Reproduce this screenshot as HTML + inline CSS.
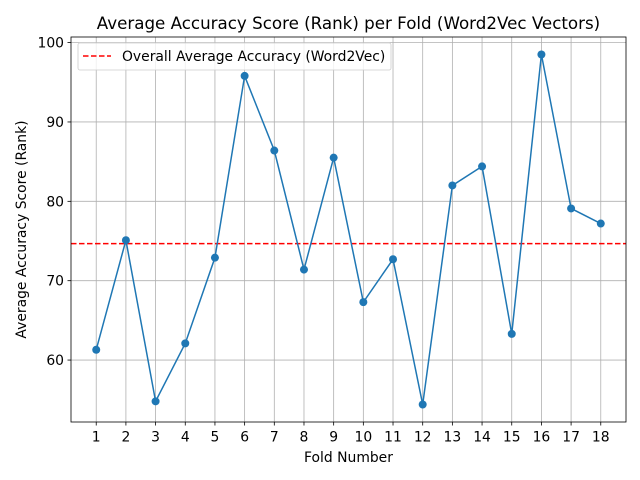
<!DOCTYPE html>
<html><head><meta charset="utf-8"><style>
body{margin:0;background:#fff;}
svg{display:block;font-family:"DejaVu Sans","Liberation Sans",sans-serif;}
</style></head><body>
<svg id="chart" width="640" height="480" xmlns="http://www.w3.org/2000/svg"></svg>
<script>
const folds = [1,2,3,4,5,6,7,8,9,10,11,12,13,14,15,16,17,18];
const scores = [61.3,75.1,54.8,62.1,72.9,95.8,86.4,71.4,85.5,67.3,72.7,54.4,82.0,84.4,63.3,98.5,79.1,77.2];
const yTicks = [60,70,80,90,100];

const NS="http://www.w3.org/2000/svg";
const svg=document.getElementById('chart');
const L=71,R=626,T=37,B=422;
const FS=13.9;
const ymin=Math.min(...scores),ymax=Math.max(...scores),yr=ymax-ymin;
const y0=ymin-0.05*yr,y1=ymax+0.05*yr;
const xmin=folds[0]-0.05*(folds[folds.length-1]-folds[0]),xmax=folds[folds.length-1]+0.05*(folds[folds.length-1]-folds[0]);
const sx=v=>L+(v-xmin)/(xmax-xmin)*(R-L);
const sy=v=>B-(v-y0)/(y1-y0)*(B-T);
function mk(tag,attrs,parent){const e=document.createElementNS(NS,tag);for(const k in attrs)e.setAttribute(k,attrs[k]);(parent||svg).appendChild(e);return e;}

folds.forEach(f=>{
  const g=mk('line',{x1:sx(f),x2:sx(f),y1:T,y2:B,stroke:'#b0b0b0','stroke-width':0.8});
  
  
  mk('line',{x1:sx(f),x2:sx(f),y1:B,y2:B+3.5,stroke:'#000','stroke-width':0.8});
  const t=mk('text',{x:sx(f),y:B+19.5,'text-anchor':'middle','font-size':FS});
  t.textContent=f;
  
  
});
yTicks.forEach(v=>{
  const g=mk('line',{x1:L,x2:R,y1:sy(v),y2:sy(v),stroke:'#b0b0b0','stroke-width':0.8});
  
  
  mk('line',{x1:L-3.5,x2:L,y1:sy(v),y2:sy(v),stroke:'#000','stroke-width':0.8});
  const t=mk('text',{x:L-7,y:sy(v)+5,'text-anchor':'end','font-size':FS});
  t.textContent=v;
  
  
});

const mean=scores.reduce((a,b)=>a+b,0)/scores.length;
const ml=mk('line',{x1:L,x2:R,y1:sy(mean),y2:sy(mean),stroke:'#ff0000','stroke-width':1.5,'stroke-dasharray':'5.5,2.5'});



const pl=mk('polyline',{points:folds.map((f,i)=>sx(f)+','+sy(scores[i])).join(' '),fill:'none',stroke:'#1f77b4','stroke-width':1.5});


folds.forEach((f,i)=>{
  const c=mk('circle',{cx:sx(f),cy:sy(scores[i]),r:4,fill:'#1f77b4'});
  
  
});

const fr=mk('rect',{x:L,y:T,width:R-L,height:B-T,fill:'none',stroke:'#000','stroke-width':0.8});



const lg=mk('g',{});


mk('rect',{x:78,y:43,width:313,height:27,rx:2,fill:'#fff','fill-opacity':0.8,stroke:'#ccc','stroke-width':0.8},lg);
mk('line',{x1:83,x2:111,y1:56,y2:56,stroke:'#ff0000','stroke-width':1.5,'stroke-dasharray':'5.5,2.5'},lg);
const lt=mk('text',{x:122,y:61,'font-size':FS},lg);
lt.textContent='Overall Average Accuracy (Word2Vec)';



const tt=mk('text',{x:(L+R)/2,y:29,'text-anchor':'middle','font-size':16.7});
tt.textContent='Average Accuracy Score (Rank) per Fold (Word2Vec Vectors)';


const xt=mk('text',{x:(L+R)/2,y:462,'text-anchor':'middle','font-size':FS});
xt.textContent='Fold Number';


const yt=mk('text',{x:0,y:0,'text-anchor':'middle','font-size':FS,transform:`translate(26,${(T+B)/2}) rotate(-90)`});
yt.textContent='Average Accuracy Score (Rank)';


</script>
</body></html>
